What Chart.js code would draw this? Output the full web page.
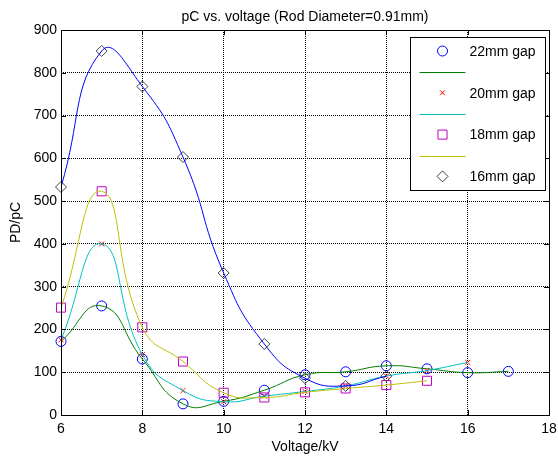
<!DOCTYPE html>
<html>
<head>
<meta charset="utf-8">
<script src="https://cdn.jsdelivr.net/npm/chart.js@4.4.0/dist/chart.umd.min.js"></script>
<style>
    html, body { margin: 0; padding: 0; background: #fff; }
    #wrap { width: 558px; height: 458px; }
</style>
</head>
<body>
<div id="wrap"><canvas id="chart"></canvas></div>
<script>
// Datos (tensión en kV, PD en pC)
const volt22 = [6, 7, 8, 9, 10, 11, 12, 13, 14, 15, 16, 17];
const pd22 = [172, 255, 131, 26, 32, 58, 94, 101, 115, 108, 99, 102];

const volt20 = [6, 7, 8, 9, 10, 11, 12, 13, 14, 15, 16];
const pd20 = [176, 400, 141, 57, 31, 44, 55, 68, 91, 104, 123];

const volt18 = [6, 7, 8, 9, 10, 11, 12, 13, 14, 15];
const pd18 = [251, 523, 205, 125, 52, 41, 53, 62, 70, 80];

const volt16 = [6, 7, 8, 9, 10, 11, 12, 13, 14];
const pd16 = [533, 851, 768, 603, 332, 166, 86, 68, 91];

const gapLabels = ['22mm gap', '20mm gap', '18mm gap', '16mm gap'];
const xTicks = [6, 8, 10, 12, 14, 16, 18];
const yTicks = [0, 100, 200, 300, 400, 500, 600, 700, 800, 900];

const FONT = 'Arial, "Liberation Sans", sans-serif';

const toPoints = (xs, ys) => xs.map((x, i) => ({ x: x, y: ys[i] }));

// Marcadores (datos) y curva suavizada, en el orden de MATLAB
function markerSet(label, xs, ys, style, radius, color) {
    return {
        label: label,
        data: toPoints(xs, ys),
        showLine: false,
        pointStyle: style,
        pointRadius: radius,
        pointBorderColor: color,
        pointBackgroundColor: 'rgba(0,0,0,0)',
        pointBorderWidth: 1,
        borderColor: color,
        clip: false
    };
}

function curveSet(xs, ys, color) {
    return {
        label: '',
        data: toPoints(xs, ys),
        showLine: true,
        borderColor: color,
        borderWidth: 1,
        pointRadius: 0,
        tension: 0.5,
        cubicInterpolationMode: 'default',
        fill: false
    };
}

const datasets = [
    markerSet(gapLabels[0], volt22, pd22, 'circle', 5, '#0000ff'),
    curveSet(volt22, pd22, '#008000'),
    markerSet(gapLabels[1], volt20, pd20, 'crossRot', 3.5, '#ff0000'),
    curveSet(volt20, pd20, '#00bfbf'),
    markerSet(gapLabels[2], volt18, pd18, 'rect', 6.4, '#bf00bf'),
    curveSet(volt18, pd18, '#bfbf00'),
    markerSet(gapLabels[3], volt16, pd16, 'rectRot', 5.5, '#404040'),
    curveSet(volt16, pd16, '#0000ff')
];
// el último dibujado queda encima
datasets.forEach((d, i) => { d.order = datasets.length - i; });

// Caja del eje con ticks hacia dentro
const axesBox = {
    id: 'axesBox',
    afterDatasetsDraw(chart) {
        const { ctx, chartArea: a, scales } = chart;
        const len = 5;
        ctx.save();
        ctx.strokeStyle = '#000';
        ctx.lineWidth = 1;
        ctx.beginPath();
        xTicks.forEach(v => {
            const px = Math.round(scales.x.getPixelForValue(v)) + 0.5;
            ctx.moveTo(px, a.bottom); ctx.lineTo(px, a.bottom - len);
            ctx.moveTo(px, a.top); ctx.lineTo(px, a.top + len);
        });
        yTicks.forEach(v => {
            const py = Math.round(scales.y.getPixelForValue(v)) + 0.5;
            ctx.moveTo(a.left, py); ctx.lineTo(a.left + len, py);
            ctx.moveTo(a.right, py); ctx.lineTo(a.right - len, py);
        });
        ctx.stroke();
        ctx.strokeRect(Math.round(a.left) + 0.5, Math.round(a.top) + 0.5,
            Math.round(a.right - a.left), Math.round(a.bottom - a.top));
        ctx.restore();
    }
};

// Leyenda estilo MATLAB dentro del área del gráfico
const matlabLegend = {
    id: 'matlabLegend',
    afterDraw(chart) {
        const { ctx, chartArea: a } = chart;
        const w = 135, h = 153;
        const left = Math.round(a.right - 4 - w) + 0.5;
        const top = Math.round(a.top + 7) + 0.5;
        const rowH = 20.9;
        ctx.save();
        ctx.fillStyle = '#fff';
        ctx.fillRect(left, top, w, h);
        ctx.strokeStyle = '#000';
        ctx.lineWidth = 1;
        ctx.strokeRect(left, top, w, h);
        ctx.font = '14px ' + FONT;
        ctx.textBaseline = 'middle';
        for (let i = 0; i < 7; i++) {
            const ds = chart.data.datasets[i];
            const y = top + 13.5 + i * rowH;
            if (ds.showLine) {
                ctx.strokeStyle = ds.borderColor;
                ctx.beginPath();
                ctx.moveTo(left + 9, Math.round(y) + 0.5);
                ctx.lineTo(left + 55, Math.round(y) + 0.5);
                ctx.stroke();
            } else {
                ctx.strokeStyle = ds.pointBorderColor;
                ctx.fillStyle = 'rgba(0,0,0,0)';
                Chart.helpers.drawPoint(ctx, {
                    pointStyle: ds.pointStyle,
                    radius: ds.pointRadius,
                    rotation: 0,
                    borderWidth: 1
                }, left + 32, y);
                ctx.fillStyle = '#000';
                ctx.fillText(ds.label, left + 59, y + 1);
            }
        }
        ctx.restore();
    }
};

new Chart(document.getElementById('chart'), {
    type: 'scatter',
    data: { datasets: datasets },
    options: {
        responsive: true,
        maintainAspectRatio: false,
        animation: false,
        events: [],
        layout: { padding: { left: 0, right: 9, top: 0, bottom: 0 } },
        plugins: {
            legend: { display: false },
            tooltip: { enabled: false }
        },
        scales: {
            x: {
                type: 'linear',
                min: 6,
                max: 18,
                afterFit: s => { s.height = 43; s.paddingRight = 0; s.paddingLeft = 0; },
                afterBuildTicks: s => { s.ticks = xTicks.map(v => ({ value: v })); },
                ticks: { color: '#000', padding: 6, font: { family: FONT, size: 14 } },
                grid: { color: '#000', lineWidth: 1, drawTicks: false },
                border: { display: false, dash: [1, 1] },
                title: {
                    display: true,
                    text: 'Voltage/kV',
                    color: '#000',
                    font: { family: FONT, size: 14 },
                    padding: { top: 0, bottom: 2 }
                }
            },
            // eje superior solo para centrar el título sobre los ejes
            xTop: {
                type: 'linear',
                position: 'top',
                min: 6,
                max: 18,
                afterFit: s => { s.height = 30; s.paddingRight = 0; s.paddingLeft = 0; },
                ticks: { display: false },
                grid: { display: false },
                border: { display: false },
                title: {
                    display: true,
                    text: 'pC vs. voltage (Rod Diameter=0.91mm)',
                    color: '#000',
                    font: { family: FONT, size: 14 },
                    padding: { top: 9, bottom: 0 }
                }
            },
            y: {
                type: 'linear',
                min: 0,
                max: 900,
                afterFit: s => { s.width = 61; },
                afterBuildTicks: s => { s.ticks = yTicks.map(v => ({ value: v })); },
                ticks: { color: '#000', padding: 4, font: { family: FONT, size: 14 } },
                grid: { color: '#000', lineWidth: 1, drawTicks: false },
                border: { display: false, dash: [1, 1] },
                title: {
                    display: true,
                    text: 'PD/pC',
                    color: '#000',
                    font: { family: FONT, size: 14 },
                    padding: { top: 8, bottom: 0 }
                }
            }
        }
    },
    plugins: [axesBox, matlabLegend]
});
</script>
</body>
</html>
